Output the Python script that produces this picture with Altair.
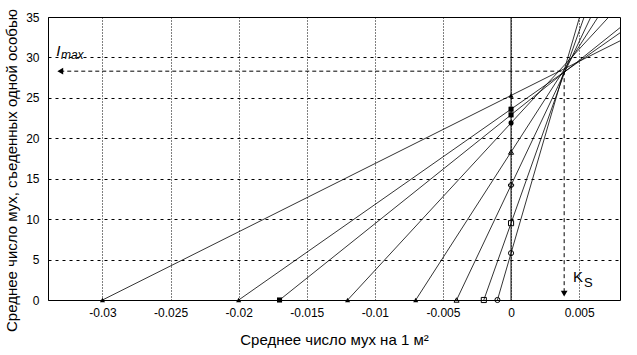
import altair as alt
import pandas as pd

# x-intercepts (on y=0) and y-intercepts (on x=0) of each line
x_int = [-0.030, -0.020, -0.017, -0.012, -0.007, -0.004, -0.002, -0.001]
y_int = [25.3, 23.6, 22.9, 21.9, 18.3, 14.2, 9.5, 5.8]
shape_bottom = ["triangle-up", "triangle-up", "square", "triangle-up", "triangle-up", "triangle-up", "square", "circle"]
filled_bottom = [True, True, True, True, True, False, False, False]
shape_zero = ["triangle-up", "square", "square", "circle", "triangle-up", "cross", "square", "circle"]
filled_zero = [True, True, True, True, False, False, False, False]

x_ticks = [-0.03, -0.025, -0.02, -0.015, -0.01, -0.005, 0, 0.005]
y_ticks = [0, 5, 10, 15, 20, 25, 30, 35]
x_domain = [-0.034, 0.008]
y_domain = [0, 35]

i_max = 28.3
k_s = 0.0039
arrow_left_x = -0.0331
arrow_down_y = 0.8

# line table: each line through its two intercepts, extended to the right edge
rows = []
for i, (a, b) in enumerate(zip(x_int, y_int)):
    slope = b / (-a)
    rows.append({"line": i, "x": a, "y": 0.0})
    rows.append({"line": i, "x": 0.0, "y": b})
    rows.append({"line": i, "x": x_domain[1], "y": b + slope * x_domain[1]})
lines_df = pd.DataFrame(rows)

pts = []
for i in range(len(x_int)):
    pts.append({"x": x_int[i], "y": 0.0, "shape": shape_bottom[i], "filled": filled_bottom[i]})
    pts.append({"x": 0.0, "y": y_int[i], "shape": shape_zero[i], "filled": filled_zero[i]})
pts_df = pd.DataFrame(pts)

xs = alt.Scale(domain=x_domain, nice=False, zero=False)
ys = alt.Scale(domain=y_domain, nice=False)

x_axis = alt.Axis(values=x_ticks, labelExpr="'' + datum.value", grid=True,
                  gridDash=[1, 2], gridColor="black", gridOpacity=1, gridWidth=1,
                  ticks=False, domain=False, labelPadding=7,
                  title="Среднее число мух на 1 м²", titlePadding=14, titleFontSize=15)
y_axis = alt.Axis(values=y_ticks, grid=True, gridDash=[3, 4], gridColor="black",
                  gridOpacity=1, gridWidth=1, ticks=False, domain=False,
                  labelPadding=9,
                  title="Среднее число мух, съеденных одной особью", titlePadding=6,
                  titleFontSize=15, titleY=153)

base_lines = alt.Chart(lines_df).mark_line(color="black", strokeWidth=0.8, clip=True).encode(
    x=alt.X("x:Q", scale=xs, axis=x_axis),
    y=alt.Y("y:Q", scale=ys, axis=y_axis),
    detail="line:N",
)

zero_rule = alt.Chart(pd.DataFrame({"x": [0.0]})).mark_rule(color="black", strokeWidth=1).encode(
    x=alt.X("x:Q", scale=xs)
)

filled_pts = alt.Chart(pts_df[pts_df["filled"]]).mark_point(filled=True, color="black", opacity=1, size=26).encode(
    x=alt.X("x:Q", scale=xs), y=alt.Y("y:Q", scale=ys), shape=alt.Shape("shape:N", scale=None)
)
open_pts = alt.Chart(pts_df[~pts_df["filled"]]).mark_point(filled=False, color="black", opacity=1, size=26, strokeWidth=1).encode(
    x=alt.X("x:Q", scale=xs), y=alt.Y("y:Q", scale=ys), shape=alt.Shape("shape:N", scale=None)
)

imax_line = alt.Chart(pd.DataFrame({"x": [arrow_left_x], "x2": [k_s], "y": [i_max]})).mark_rule(
    color="black", strokeDash=[4, 3], strokeWidth=1).encode(
    x=alt.X("x:Q", scale=xs), x2="x2:Q", y=alt.Y("y:Q", scale=ys))
ks_line = alt.Chart(pd.DataFrame({"x": [k_s], "y": [i_max], "y2": [arrow_down_y]})).mark_rule(
    color="black", strokeDash=[4, 3], strokeWidth=1).encode(
    x=alt.X("x:Q", scale=xs), y=alt.Y("y:Q", scale=ys), y2="y2:Q")

arrows = alt.Chart(pd.DataFrame({
    "x": [arrow_left_x, k_s], "y": [i_max, arrow_down_y], "shape": ["triangle-left", "triangle-down"]
})).mark_point(filled=True, color="black", opacity=1, size=45).encode(
    x=alt.X("x:Q", scale=xs), y=alt.Y("y:Q", scale=ys), shape=alt.Shape("shape:N", scale=None))

labels = pd.DataFrame({
    "x": [-0.0334, -0.03305, 0.00455, 0.00535],
    "y": [30.2, 29.8, 2.2, 1.6],
    "t": ["I", "max", "K", "S"],
    "size": [15, 12, 15, 13],
})
txt_i = alt.Chart(labels.iloc[[0, 1]]).mark_text(align="left", baseline="alphabetic", color="black",
                                                  font="Liberation Sans", fontStyle="italic").encode(
    x=alt.X("x:Q", scale=xs), y=alt.Y("y:Q", scale=ys), text="t:N",
    size=alt.Size("size:Q", scale=None, legend=None))
txt_k = alt.Chart(labels.iloc[[2, 3]]).mark_text(align="left", baseline="alphabetic", color="black",
                                                  font="Liberation Sans").encode(
    x=alt.X("x:Q", scale=xs), y=alt.Y("y:Q", scale=ys), text="t:N",
    size=alt.Size("size:Q", scale=None, legend=None))

chart = alt.layer(base_lines, zero_rule, imax_line, ks_line, filled_pts, open_pts, arrows, txt_i, txt_k).properties(
    width=572, height=283,
    autosize=alt.AutoSizeParams(type="none"),
    padding={"left": 48, "top": 17, "right": 17, "bottom": 55},
    background="white",
).configure_view(stroke="black", strokeWidth=1).configure_axis(
    labelFont="Liberation Sans", labelFontSize=12, labelColor="black",
    titleFont="Liberation Sans", titleFontWeight="normal", titleColor="black",
)

chart.save("out.html", embed_options={"renderer": "svg", "actions": False})
